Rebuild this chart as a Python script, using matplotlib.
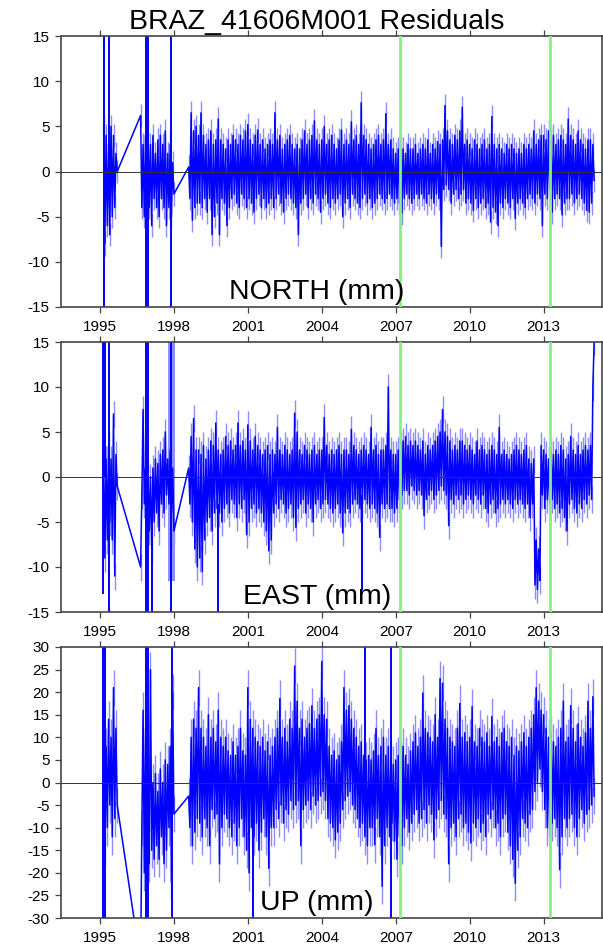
import numpy as np
import matplotlib
matplotlib.use("Agg")
import matplotlib.pyplot as plt

plt.rcParams['font.family'] = ['Liberation Sans', 'DejaVu Sans']
plt.rcParams['axes.unicode_minus'] = False

title = "BRAZ_41606M001 Residuals"
panel_labels = ["NORTH (mm)", "EAST (mm)", "UP (mm)"]
xticks = [1995, 1998, 2001, 2004, 2007, 2010, 2013]
event_years = [2007.18, 2013.26]
seg_starts = [1995.15, 1996.65, 1998.6]
seg_counts_ab = [6, 14]
step = 0.1

# ---------------- NORTH (mm) : high / low residual per 0.1 yr ----------------
north_hi = [5, 4, 3, 5, 4, 2,
            6.2, 3, 4, 4.5, 3, 4, 2, 3.5, 4, 3, 4.5, 2, 3, 1,
            0.5, 6.5, 4.5, 5.0,
            4.0, 6.5, 4.0, 3.0, 3.5, 4.5, 3.0, 3.5, 5.8, 3.5,
            3.0, 2.5, 3.5, 3.0, 4.0, 3.5, 3.0, 4.0, 3.5, 4.5,
            5.2, 3.5, 3.0, 4.0, 4.6, 3.0, 3.5, 2.5, 3.0, 3.5,
            3.0, 6.5, 3.5, 4.0, 2.5, 3.0, 3.5, 4.0, 3.0, 2.5,
            3.0, 2.5, 3.5, 4.5, 3.0, 3.5, 4.0, 5.6, 3.5, 3.0,
            3.5, 5.0, 3.0, 3.5, 4.0, 3.0, 2.5, 3.5, 4.6, 3.0,
            3.5, 3.0, 5.5, 3.5, 4.0, 3.0, 7.6, 4.0, 3.5, 3.0,
            2.5, 3.0, 3.5, 4.0, 3.0, 3.5, 6.4, 3.0, 3.5, 2.5,
            2.0, 2.5, 3.0, 2.5, 2.0, 3.0, 2.5, 2.5, 3.0, 2.0,
            2.5, 3.0, 2.5, 3.5, 2.0, 3.0, 2.5, 3.3, 3.0, 3.5,
            7.3, 4.5, 3.5, 3.0, 4.0, 3.5, 4.5, 7.1, 3.0, 3.5,
            3.0, 2.5, 3.5, 3.0, 2.5, 3.0, 3.5, 2.5, 3.0, 6.1,
            3.0, 2.5, 3.0, 2.5, 2.0, 3.0, 2.5, 3.0, 2.5, 2.0,
            2.5, 2.0, 3.0, 2.5, 3.0, 2.5, 4.5, 3.0, 3.5, 4.0,
            4.0, 3.5, 4.5, 3.5, 4.0, 3.0, 3.5, 4.0, 3.5, 3.0,
            5.8, 4.0, 3.5, 3.0, 4.5, 3.5, 3.0, 2.5, 3.5, 3.5,
            3.0]
north_lo = [-8, -6, -7, -5, -4, 0,
            -4, -5, -3, -4, -6, -3, -4, -5, -3, -4, -6, -4, -5, -2.5,
            -3.0, -5.4, -4.0, -3.5,
            -3.5, -4.0, -3.0, -4.5, -3.0, -7.0, -5.0, -3.5, -7.0, -3.0,
            -3.5, -6.0, -4.0, -3.0, -2.5, -3.5, -4.0, -2.5, -3.0, -4.0,
            -3.0, -3.5, -4.5, -3.0, -2.5, -4.0, -3.0, -4.0, -3.5, -3.0,
            -4.0, -3.0, -2.5, -3.5, -4.5, -3.0, -2.5, -3.0, -3.5, -4.0,
            -7.0, -3.5, -3.0, -2.5, -4.0, -3.0, -3.5, -2.5, -3.0, -4.5,
            -3.0, -2.5, -3.5, -4.0, -3.0, -3.5, -3.0, -2.5, -5.0, -3.5,
            -3.0, -4.0, -2.5, -3.0, -3.5, -4.0, -3.0, -2.5, -3.5, -3.0,
            -4.0, -3.5, -3.0, -2.5, -3.0, -3.5, -3.0, -2.5, -3.0, -3.5,
            -3.0, -3.5, -4.6, -3.0, -2.5, -3.0, -3.5, -3.0, -2.5, -3.0,
            -2.5, -3.0, -3.5, -2.5, -3.0, -3.5, -2.5, -3.0, -8.3, -2.0,
            -1.5, -2.0, -3.5, -2.5, -2.0, -3.0, -2.5, -2.0, -3.5, -3.0,
            -3.5, -4.3, -3.0, -4.0, -3.5, -3.0, -4.0, -3.5, -5.6, -4.0,
            -4.5, -6.0, -3.5, -4.0, -3.0, -3.5, -4.0, -3.0, -5.2, -3.5,
            -3.0, -3.5, -4.0, -3.0, -2.5, -3.0, -3.5, -2.5, -3.0, -6.0,
            -2.5, -3.0, -2.0, -4.5, -3.0, -2.5, -3.0, -4.8, -3.5, -3.0,
            -3.0, -2.5, -3.5, -3.0, -2.5, -3.0, -3.5, -4.3, -4.5, -3.5,
            -1.0]
north_spike_t = [1995.18, 1995.37, 1996.88, 1996.93, 1997.90]
north_spike_lo = [-16, -2, -16, -16, -16]
north_spike_hi = [16, 16, 16, 16, 16]

# ---------------- EAST (mm) ----------------
east_hi = [3, 2, 3.5, 2, 7, 2.5,
           -10, 7.5, 1, 0.5, 0, 1, 2, 1.5, 2.5, 3, 5, 2, 3, 1,
           1.0, 4.5, 6.5, 3.0,
           3.0, 2.5, 3.5, 2.0, 3.0, 4.0, 3.5, 6.0, 3.0, 2.5,
           3.0, 4.5, 3.5, 4.0, 3.0, 3.5, 6.0, 3.5, 4.0, 3.0,
           5.8, 4.0, 3.0, 4.5, 3.5, 3.0, 2.5, 3.0, 3.5, 2.5,
           3.0, 2.5, 5.5, 3.0, 2.5, 3.5, 3.0, 2.5, 3.0, 7.1,
           5.0, 3.0, 2.5, 3.5, 3.0, 2.5, 3.0, 3.5, 2.5, 3.0,
           3.0, 6.6, 3.5, 2.5, 3.0, 2.5, 3.0, 3.5, 2.5, 3.0,
           3.0, 2.5, 5.3, 3.5, 3.0, 2.5, 3.0, 3.5, 3.0, 2.5,
           5.5, 3.0, 3.5, 2.5, 3.0, 3.0, 3.5, 10.0, 3.0, 2.5,
           2.5, 3.0, 3.5, 4.0, 4.5, 3.5, 4.0, 3.5, 4.0, 3.5,
           3.0, 4.0, 2.5, 3.5, 3.0, 3.5, 4.0, 4.5, 5.0, 7.5,
           5.0, 4.5, 4.0, 3.0, 3.5, 3.0, 4.0, 4.0, 3.5, 3.0,
           3.5, 3.0, 2.5, 4.0, 3.0, 3.5, 3.0, 2.5, 3.0, 3.5,
           3.0, 2.5, 5.5, 2.5, 3.0, 2.5, 2.0, 2.5, 3.0, 3.5,
           3.0, 2.5, 3.0, 3.5, 2.0, 1.5, 2.0, -7.0, -8.0, 3.5,
           3.0, 2.5, 2.0, 3.0, 2.5, 3.0, 2.5, 3.5, 3.0, 2.0,
           2.5, 4.5, 3.0, 2.5, 3.5, 2.5, 3.0, 3.5, 3.0, 3.5,
           10.0]
east_lo = [-9, -7, -5, -7, -11, -1,
           -2, -3, -5, -6, -8, -5, -4, -6, -3, -4, -2, -3, -4, -6,
           -3.0, -5.0, -8.0, -10.0,
           -9.0, -10.5, -7.0, -5.0, -4.5, -6.0, -4.0, -3.5, -4.0, -5.0,
           -3.5, -3.0, -4.0, -2.5, -3.0, -4.5, -3.0, -3.5, -2.5, -6.4,
           -5.0, -3.5, -3.0, -4.0, -3.5, -4.0, -5.0, -6.0, -8.2, -7.0,
           -4.0, -3.0, -3.5, -2.5, -3.0, -4.0, -3.5, -3.0, -4.5, -5.6,
           -3.5, -3.0, -2.5, -4.0, -3.0, -3.5, -5.0, -3.0, -2.5, -3.5,
           -3.0, -2.5, -3.0, -3.5, -4.0, -3.5, -3.0, -4.0, -6.2, -4.0,
           -3.5, -4.0, -3.0, -2.5, -3.0, -3.5, -3.0, -2.5, -3.0, -3.5,
           -3.0, -3.5, -4.0, -6.7, -3.0, -3.5, -3.0, -3.5, -3.5, -4.0,
           -3.5, -2.5, -2.0, -1.5, -1.5, -2.0, -1.0, -1.5, -2.0, -1.5,
           -2.0, -4.3, -2.5, -2.0, -1.5, -2.5, -2.0, -1.5, -1.0, -1.5,
           -2.0, -5.4, -2.5, -3.0, -2.0, -2.5, -2.0, -3.0, -2.5, -2.0,
           -2.5, -3.0, -2.0, -2.5, -3.0, -2.0, -3.5, -4.0, -3.0, -2.5,
           -4.0, -3.5, -3.0, -2.5, -3.0, -2.5, -3.0, -3.5, -2.5, -3.0,
           -2.5, -3.0, -3.5, -3.0, -4.5, -3.0, -12.0, -12.5, -11.5, -2.0,
           -3.5, -2.5, -3.0, -2.5, -3.5, -3.0, -4.0, -3.5, -4.5, -6.0,
           -3.0, -2.5, -3.5, -4.0, -3.0, -3.5, -2.5, -3.0, -2.0, -2.5,
           15.0]
east_spike_t = [1995.13, 1995.20, 1995.38, 1996.86, 1996.93, 1997.10, 1997.90, 1999.80, 2005.62]
east_spike_lo = [-13, 0, -16, -16, -16, -16, -16, -16, -12.5]
east_spike_hi = [16, 16, 16, 16, 16, -3, 16, -3, -2]
east_band_t = [1997.82, 1997.87, 1997.92, 1997.97, 1998.02]
east_band_lo = [-11.5, -11.5, -11.5, -11.5, -11.5]
east_band_hi = [16, 16, 16, 16, 16]

# ---------------- UP (mm) ----------------
up_hi = [15, 8, 14, 10, 21, 12,
         -40, 16, 12, 5, 25, 0, 2, -2, 3, 0, 5, 4, 8, 20,
         -3, 10, 14, 12,
         21, 12, 10, 8, 15, 10, 12, 9, 16, 10,
         8, 10, 7, 6, 9, 6, 8, 12, 7, 6,
         21, 14, 12, 10, 9, 8, 10, 7, 9, 6,
         8, 10, 12, 18.6, 10, 12, 9, 14, 12, 25.8,
         18, 12, 14, 10, 12, 13, 17, 12, 14, 15,
         26.8, 15, 14, 8, 6, 7, 5, 6, 9, 21,
         16, 17, 14, 12, 10, 8, 9, 6, 5, 6,
         5, 7, 12, 6, 8, 10, 6, 8, 5, 4,
         5, 6, 5, 8, 6, 4, 7, 9, 11, 8,
         10, 19.8, 12, 11, 10, 9, 15, 10, 23, 22,
         14, 12, 10, 9, 8, 12, 17.5, 10, 11, 9,
         10, 16.8, 9, 8, 12, 10, 9, 11, 8, 14.6,
         9, 10, 8, 11, 12, 9, 8, 10, 6, 8,
         7, 9, 11, 8, 10, 12, 15, 21, 18, 16,
         15, 12, 10, 11, 9, 8, 10, 12, 18, 9,
         10, 17, 12, 9, 13, 10, 8, 11, 18, 12,
         19]
up_lo = [-15, -10, -5, -12, -8, -5,
         -10, -20, -21, -18, -15, -17, -14, -17, -12, -18, -15, -10, -22, -7,
         -10, -14, -11, -8,
         -9, -12, -8, -10, -14, -6, -8, -7, -18, -10,
         -7, -8, -10, -12, -9, -14, -10, -8, -12, -15,
         -20, -10, -12, -9, -15, -11, -8, -12, -19, -10,
         -10, -6, -8, -5, -9, -6, -7, -4, -6, -5,
         -4, -14, -6, -5, -4, -6, -3, -5, -4, -3,
         -2, -4, -8, -9, -10, -12.7, -11, -9, -6, -4,
         -3, -2, -5, -6, -8, -10, -9, -12, -14, -10,
         -10, -13.8, -8, -12, -23, -14, -10, -12, -9, -13,
         -17, -12, -14, -10, -8, -11, -9, -7, -6, -9,
         -8, -6, -9, -5, -7, -12.7, -8, -6, -4, -7,
         -8, -18, -10, -9, -12, -8, -7, -10, -9, -11,
         -13.4, -9, -10, -8, -11, -9, -12, -7, -8, -6,
         -10, -9, -12, -8, -7, -11, -14, -17, -22.3, -15,
         -12, -8, -9, -10, -7, -6, -2, 0, 3, -2,
         -6, -10, -12, -9, -8, -10, -19.3, -12, -8, -10,
         -8, -7, -10, -12, -8, -6, -9, -7, -6, -5,
         -3]
up_spike_t = [1995.12, 1995.17, 1995.22, 1996.86, 1996.93, 1997.92, 2001.19, 2005.75, 2006.81]
up_spike_lo = [-31, -31, -31, -31, -31, -31, -31, 0, -31]
up_spike_hi = [31, 31, 31, 31, 31, 31, 0, 31, 31]

panels = [
    dict(hi=north_hi, lo=north_lo, st=north_spike_t, slo=north_spike_lo, shi=north_spike_hi,
         ylim=15, yticks=list(range(-15, 16, 5)), sig=1.3, band=None),
    dict(hi=east_hi, lo=east_lo, st=east_spike_t, slo=east_spike_lo, shi=east_spike_hi,
         ylim=15, yticks=list(range(-15, 16, 5)), sig=1.5,
         band=(east_band_t, east_band_lo, east_band_hi)),
    dict(hi=up_hi, lo=up_lo, st=up_spike_t, slo=up_spike_lo, shi=up_spike_hi,
         ylim=30, yticks=list(range(-30, 31, 5)), sig=4.0, band=None),
]

W, H = 603, 951
fig = plt.figure(figsize=(W / 100, H / 100), dpi=100)
fig.patch.set_facecolor('white')

boxes = [(36, 307), (342, 612), (647, 918)]
left_px, right_px = 61.5, 602

DARK = '#0000ff'
LIGHT = '#8c8cff'
GREEN = '#86f086'
FRAME = '#444444'

for i, (p, (top, bot)) in enumerate(zip(panels, boxes)):
    ax = fig.add_axes([left_px / W, 1 - bot / H, (right_px - left_px) / W, (bot - top) / H])
    n = min(len(p['hi']), len(p['lo']))
    counts = seg_counts_ab + [n - sum(seg_counts_ab)]
    t = np.concatenate([s + step * np.arange(c) for s, c in zip(seg_starts, counts)])
    hi = np.asarray(p['hi'][:n], float)
    lo = np.asarray(p['lo'][:n], float)
    tz = np.column_stack([t, t + step / 2]).ravel()
    vz = np.column_stack([hi, lo]).ravel()

    ax.vlines(tz, vz - p['sig'], vz + p['sig'], color=LIGHT, lw=1.0, zorder=1)
    if p['band'] is not None:
        bt, blo, bhi = p['band']
        ax.vlines(bt, blo, bhi, color=LIGHT, lw=1.4, zorder=1)
    ax.plot(tz, vz, color=DARK, lw=1.1, zorder=2)
    ax.vlines(p['st'], p['slo'], p['shi'], color=DARK, lw=1.4, zorder=2)

    ax.axhline(0, color='#333333', lw=0.7, zorder=3)
    for ev in event_years:
        ax.axvline(ev, color=GREEN, lw=2.0, zorder=4)

    ax.set_xlim(1993.44, 2015.37)
    ax.set_ylim(-p['ylim'], p['ylim'])
    ax.set_xticks(xticks)
    ax.set_xticklabels([str(x) for x in xticks])
    ax.set_yticks(p['yticks'])
    ax.set_yticklabels([str(y) for y in p['yticks']])
    ax.tick_params(axis='both', direction='out', length=4.5, width=0.9, color=FRAME,
                   labelsize=11, pad=4)
    ax.tick_params(axis='x', top=True, bottom=True, labeltop=False, pad=5)
    for sp in ax.spines.values():
        sp.set_color(FRAME)
        sp.set_linewidth(1.2)
    ax.text(0.473, 0.03, panel_labels[i], transform=ax.transAxes, ha='center',
            va='baseline', fontsize=20.5, zorder=5)

fig.text(317 / W, 1 - 29 / H, title, ha='center', va='baseline', fontsize=20.5)
fig.savefig('out.png', dpi=100, facecolor='white')
